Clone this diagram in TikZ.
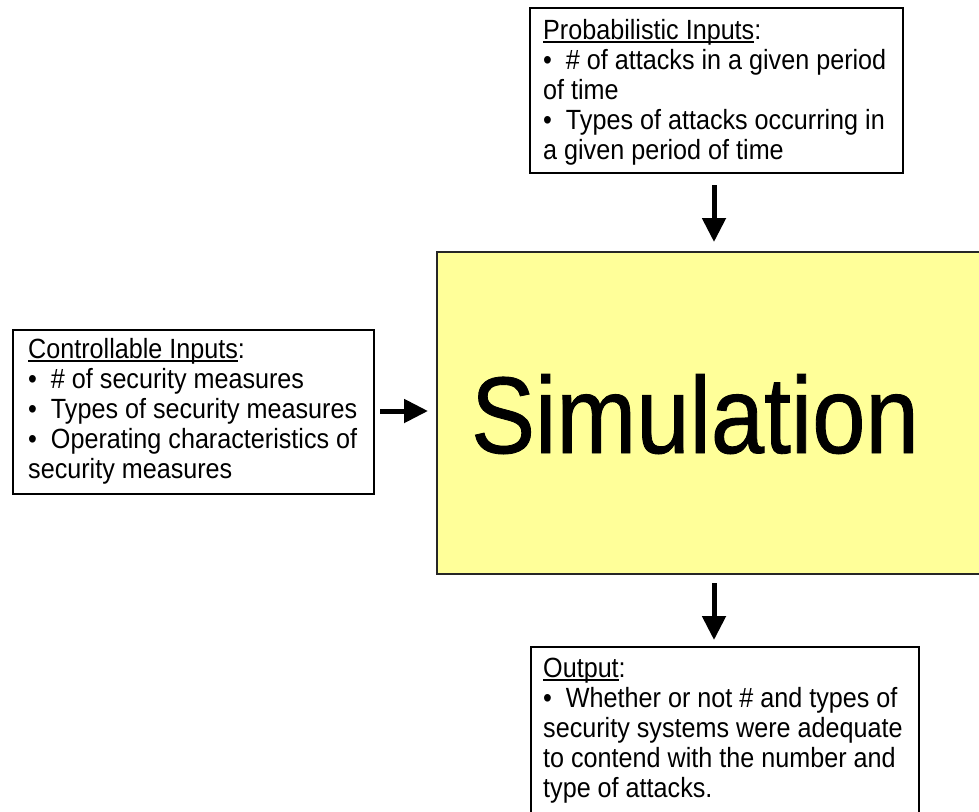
\documentclass[tikz,border=0pt]{standalone}
\usepackage{fontspec}
\setmainfont{Liberation Sans}[FakeStretch=0.905]
\newfontfamily\simfont{Liberation Sans}[FakeStretch=0.88,FakeBold=0.8]
\usetikzlibrary{arrows.meta}
\definecolor{simyellow}{RGB}{255,255,153}
\newcommand\myuline[1]{\leavevmode\setbox0\hbox{#1}\rlap{\rule[-3.5pt]{\wd0}{1.1pt}}\box0}
\begin{document}
\begin{tikzpicture}[x=1pt,y=-1pt,
  box/.style={draw=black, line width=1.3pt, fill=white, inner sep=0pt, outer sep=0pt, anchor=north west},
  simbox/.style={draw=black!85, line width=1.8pt, fill=simyellow, inner sep=0pt, outer sep=0pt, anchor=north west},
  txt/.style={anchor=base west, inner sep=0pt, font=\fontsize{27.8}{30}\selectfont},
  bigarrow/.style={line width=5pt, -{Triangle[width=23pt,length=24pt]}}
]
\useasboundingbox (0,0) rectangle (979,811);
\clip (0,0) rectangle (979,811);
\fill[white] (0,0) rectangle (979,811);

% boxes
\node[box, minimum width=373pt, minimum height=165pt] (prob) at (530,8) {};
\node[box, minimum width=361pt, minimum height=164pt] (ctrl) at (13,330) {};
\node[simbox, minimum width=570pt, minimum height=322pt] (sim) at (437,252) {};
\node[box, minimum width=388pt, minimum height=220pt] (out) at (531,647) {};

% texts
\node[txt] (probtxt) at (543,39) {\parbox[t]{500pt}{\raggedright
\myuline{Probabilistic Inputs}:\\
\textbullet\ \ \#~of attacks in a given period\\
of time\\
\textbullet\ \ Types of attacks occurring in\\
a given period of time}};

\node[txt] (ctrltxt) at (28,358) {\parbox[t]{500pt}{\raggedright
\myuline{Controllable Inputs}:\\
\textbullet\ \ \#~of security measures\\
\textbullet\ \ Types of security measures\\
\textbullet\ \ Operating characteristics of\\
security measures}};

\node[txt] (outtxt) at (543,677) {\parbox[t]{500pt}{\raggedright
\myuline{Output}:\\
\textbullet\ \ Whether or not \#~and types of\\
security systems were adequate\\
to contend with the number and\\
type of attacks.}};

\node[anchor=base, inner sep=0pt, font=\simfont\fontsize{109}{120}\selectfont] (simtxt) at (695,453) {Simulation};

% arrows
\coordinate (ax) at (714,0);
\coordinate (ay) at (0,411);
\draw[bigarrow, shorten <=12pt, shorten >=10pt] (prob.south -| ax) -- (sim.north -| ax);
\draw[bigarrow, shorten <=6pt, shorten >=9pt] (ctrl.east |- ay) -- (sim.west |- ay);
\draw[bigarrow, shorten <=9pt, shorten >=7pt] (sim.south -| ax) -- (out.north -| ax);
\end{tikzpicture}
\end{document}
